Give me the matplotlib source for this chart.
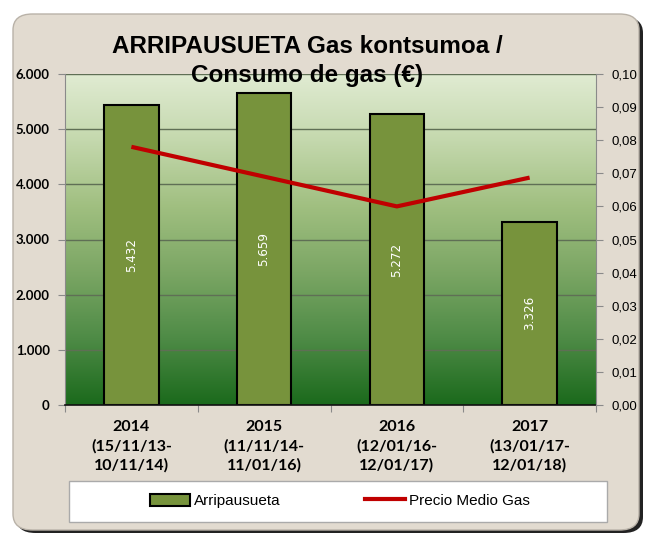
import numpy as np
import matplotlib
matplotlib.use("Agg")
import matplotlib.pyplot as plt
from matplotlib.colors import LinearSegmentedColormap
from matplotlib.patches import FancyBboxPatch, Rectangle, Patch
from matplotlib.lines import Line2D

# data
categories = ["2014\n(15/11/13-\n10/11/14)", "2015\n(11/11/14-\n11/01/16)",
              "2016\n(12/01/16-\n12/01/17)", "2017\n(13/01/17-\n12/01/18)"]
consumo = [5432, 5659, 5272, 3326]
precio = [0.078, 0.069, 0.060, 0.0687]
bar_labels = ["5.432", "5.659", "5.272", "3.326"]
left_ticks = [0, 1000, 2000, 3000, 4000, 5000, 6000]
left_ticklabels = ["0", "1.000", "2.000", "3.000", "4.000", "5.000", "6.000"]
right_ticks = [i / 100 for i in range(11)]
right_ticklabels = ["0,%02d" % i if i < 10 else "0,10" for i in range(11)]

W, H = 650, 534
fig = plt.figure(figsize=(W / 100, H / 100), dpi=100)
fig.patch.set_facecolor("white")

def fx(px):
    return px / W

def fy(py):
    return 1 - py / H

# outer rounded frame with shadow
shadow = FancyBboxPatch((fx(16), fy(533)), fx(627), fy(17) - fy(533),
                        boxstyle="round,pad=0,rounding_size=0.03",
                        transform=fig.transFigure, facecolor="#222222",
                        edgecolor="none", zorder=-2)
frame = FancyBboxPatch((fx(13), fy(530)), fx(626), fy(14) - fy(530),
                       boxstyle="round,pad=0,rounding_size=0.03",
                       transform=fig.transFigure, facecolor="#e2dbd0",
                       edgecolor="#b9b2a8", lw=1, zorder=-1)
fig.patches.extend([shadow, frame])

# plot area
x0, x1, ytop, ybot = 65, 596, 74, 405
ax = fig.add_axes([fx(x0), fy(ybot), fx(x1 - x0), fy(ytop) - fy(ybot)])
ax.set_zorder(1)
ax.set_xlim(-0.5, 3.5)
ax.set_ylim(0, 6000)

cmap = LinearSegmentedColormap.from_list(
    "bg", ["#1b6a1c", "#4e8b46", "#7ba664", "#a0bf80", "#c4d8ad", "#e0ebd2"])
grad = np.linspace(0, 1, 256).reshape(-1, 1)
ax.imshow(grad, cmap=cmap, origin="lower", aspect="auto",
          extent=(-0.5, 3.5, 0, 6000), zorder=0)

for v in left_ticks[1:]:
    ax.axhline(v, color="#5f6f55", lw=1, zorder=1)

x = np.arange(len(categories))
bars = ax.bar(x, consumo, width=0.41, color="#77933c", edgecolor="black",
              lw=1.5, zorder=2)
for xi, v, lab in zip(x, consumo, bar_labels):
    ax.text(xi, v / 2, lab, rotation=90, ha="center", va="center",
            color="white", fontsize=9.5, family="DejaVu Sans",
            fontstretch="condensed", zorder=3)

ax.set_yticks(left_ticks)
ax.set_yticklabels(left_ticklabels, fontsize=9.5, fontweight="bold",
                   family=["Lato", "DejaVu Sans"])
ax.set_xticks([-0.5, 0.5, 1.5, 2.5, 3.5])
ax.set_xticklabels([])
ax.set_xticks(x, minor=True)
ax.set_xticklabels(categories, minor=True, fontsize=11.5, fontweight="bold",
                   family=["Lato", "DejaVu Sans"], linespacing=1.4)
ax.tick_params(axis="x", which="minor", length=0, pad=11)
ax.tick_params(axis="x", which="major", length=5, color="#8a8a8a")
ax.tick_params(axis="y", length=5, color="#8a8a8a", pad=6)
for s in ["top", "right"]:
    ax.spines[s].set_visible(False)
ax.spines["left"].set_color("#8a8a8a")
ax.spines["bottom"].set_color("#111111")
ax.spines["bottom"].set_linewidth(1.2)

ax2 = ax.twinx()
ax2.set_zorder(2)
ax2.patch.set_visible(False)
ax2.set_ylim(0, 0.10)
ax2.plot(x, precio, color="#c00000", lw=3, zorder=4, solid_capstyle="butt")
ax2.set_yticks(right_ticks)
ax2.set_yticklabels(right_ticklabels, fontsize=9.5, family="Liberation Sans")
ax2.tick_params(axis="y", length=5, color="#8a8a8a", pad=6)
for s in ["top", "left", "bottom"]:
    ax2.spines[s].set_visible(False)
ax2.spines["right"].set_color("#8a8a8a")

# title
fig.text(fx(307), fy(61), "ARRIPAUSUETA Gas kontsumoa /\nConsumo de gas (€)",
         ha="center", va="center", fontsize=17.5, fontweight="bold",
         family="Liberation Sans", linespacing=1.3, zorder=5)

# legend
fig.patches.append(Rectangle((fx(69), fy(522)), fx(538), fy(481) - fy(522),
                             transform=fig.transFigure, facecolor="white",
                             edgecolor="#aaaaaa", lw=1, zorder=0))
handles = [Patch(facecolor="#77933c", edgecolor="black", lw=1.5),
           Line2D([], [], color="#c00000", lw=3)]
leg = fig.legend(handles, ["Arripausueta", "Precio Medio Gas"], ncol=2,
                 loc="center", bbox_to_anchor=(fx(340), fy(501)),
                 frameon=False, prop={"family": "Liberation Sans", "size": 11},
                 columnspacing=5.5, handlelength=2.6, handletextpad=0.3,
                 handleheight=0.8)

fig.savefig("out.png", dpi=100)
